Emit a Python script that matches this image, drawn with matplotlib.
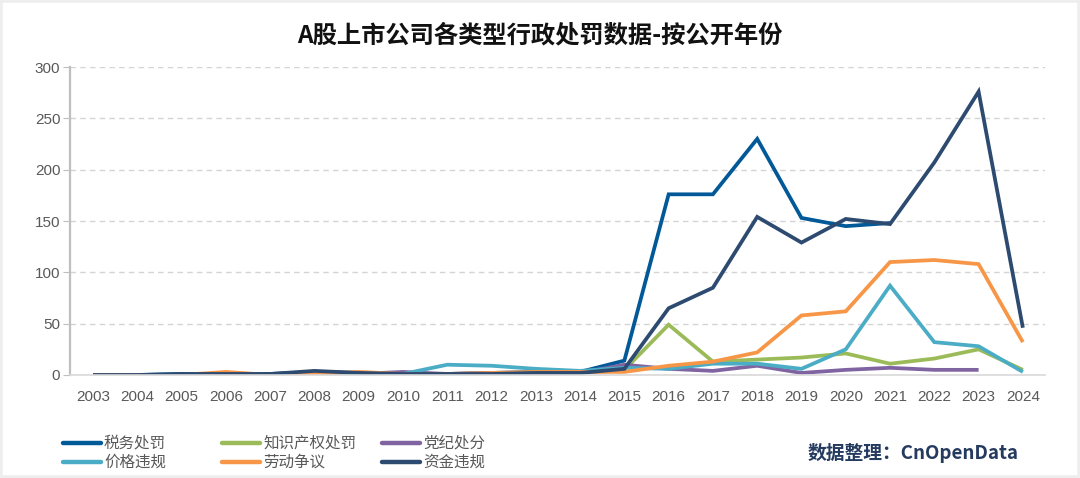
import numpy as np
import matplotlib
matplotlib.use('Agg')
from matplotlib import pyplot as plt
from matplotlib.lines import Line2D
from matplotlib.patches import Rectangle

plt.rcParams['font.family'] = ['Noto Sans CJK SC', 'DejaVu Sans']

years = list(range(2003, 2025))
nan = np.nan

tax = [0, 0, 1, 1, 1, 3, 2, 1, 1, 2, 3, 3, 14, 176, 176, 230, 153, 145, 148, nan, nan, nan]      # 税务处罚
ip = [0, 0, 0, 0, 0, 0, 0, 0, 0, 0, 1, 2, 5, 49, 13, 15, 17, 21, 11, 16, 25, 5]                 # 知识产权处罚
party = [0, 0, 0, 0, 0, 0, 1, 3, 1, 2, 2, 2, 10, 6, 4, 9, 2, 5, 7, 5, 5, nan]                  # 党纪处分
price = [0, 0, 0, 0, 0, 0, 0, 1, 10, 9, 6, 4, 7, 6, 11, 11, 6, 25, 87, 32, 28, 3]              # 价格违规
labor = [0, 0, 0, 3, 0, 1, 3, 1, 1, 2, 3, 3, 3, 9, 13, 22, 58, 62, 110, 112, 108, 32]          # 劳动争议
funds = [0, 0, 1, 1, 1, 4, 2, 1, 1, 1, 2, 2, 6, 65, 85, 154, 129, 152, 147, 207, 276, 46]      # 资金违规

series = [
    ('税务处罚', tax, '#015a97'),
    ('知识产权处罚', ip, '#9bbb59'),
    ('党纪处分', party, '#8064a2'),
    ('价格违规', price, '#4bacc6'),
    ('劳动争议', labor, '#f79646'),
    ('资金违规', funds, '#2d4a70'),
]

fig = plt.figure(figsize=(10.8, 4.78), dpi=100)
ax = fig.add_axes([0.0648, 0.2155, 0.9028, 0.6443])

x = np.arange(len(years))
for name, vals, col in series:
    ax.plot(x, vals, color=col, lw=2.7, solid_capstyle='butt', solid_joinstyle='miter')

ax.set_xlim(-0.52, len(years) - 0.5)
ax.set_ylim(0, 300)
ax.set_yticks(range(0, 301, 50))
ax.set_xticks(x)
ax.set_xticklabels([str(y) for y in years])
ax.yaxis.grid(True, ls=(0, (4, 3)), color='#d4d4d4', lw=1)
ax.set_axisbelow(True)
for s in ['top', 'right']:
    ax.spines[s].set_visible(False)
ax.spines['left'].set_color('#bfbfbf')
ax.spines['left'].set_linewidth(1.6)
ax.spines['bottom'].set_color('#d9d9d9')
ax.spines['bottom'].set_linewidth(1.2)
ax.tick_params(axis='y', length=5, color='#bfbfbf', labelsize=11, labelcolor='#595959', pad=2)
ax.tick_params(axis='x', length=0, labelsize=11, labelcolor='#595959', pad=11)
for lab in ax.get_xticklabels() + ax.get_yticklabels():
    lab.set_family(['Liberation Sans', 'DejaVu Sans'])

fig.text(0.5, 0.925, 'A股上市公司各类型行政处罚数据-按公开年份', ha='center', va='center',
         fontsize=17.5, fontweight='bold', color='#111111')

# legend, two rows of three
col_x = [63, 222, 382]
row_y = [443, 462]
W, H = 1080, 478
for k, (name, vals, col) in enumerate(series):
    r, c = divmod(k, 3)
    x0 = col_x[c] / W
    y0 = 1 - row_y[r] / H
    fig.add_artist(Line2D([x0, x0 + 38 / W], [y0, y0], color=col, lw=3.2,
                          transform=fig.transFigure, solid_capstyle='round'))
    fig.text(x0 + 41 / W, y0, name, ha='left', va='center', fontsize=11.2, color='#595959')

fig.text(1019 / W, 1 - 453 / H, '数据整理：CnOpenData', ha='right', va='center',
         fontsize=13.5, fontweight='bold', color='#243a5e')

fig.add_artist(Rectangle((0, 0), 1, 1, transform=fig.transFigure, fill=False,
                         edgecolor='#eeeeee', lw=4))

fig.savefig('out.png', dpi=100)
